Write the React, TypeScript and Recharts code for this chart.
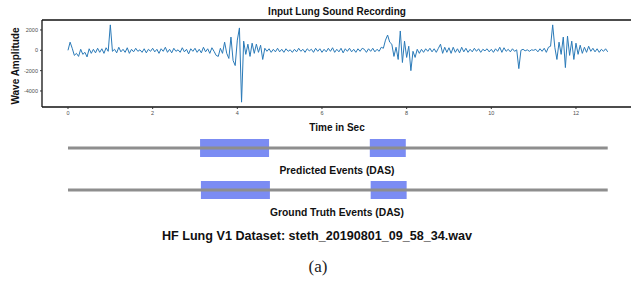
import { LineChart, Line, XAxis, YAxis, ReferenceLine, ReferenceArea } from "recharts";

const SAMPLE_STEP = 0.05;
const WAVE = [
  0, 800, 200, -500, -300, -600, 100, -400, -200, -650, 150, -300, 100, -250, 200, -200, 150, -300, 250, -100,
  2500, -100, 100, -250, 300, -150, 100, -200, 250, -300, 100, -150, 200, -100, 50, -200, 150, -250, 100, -100,
  200, -150, 100, -300, 150, -100, 300, -200, 100, -250, 200, -100, 50, -200, 250, -150, 100, -350, 150, -100,
  200, -200, 100, -250, 300, -150, 150, -300, 250, -100, -500, -600, 200, -300, 800, -300, -800, 1300, -1000, -1500,
  1000, 2200, -5100, 900, -400, 600, -600, 700, -300, 600, -200, 500, -900, 200, -100, 150, -200, 100, -150, 200,
  -150, 100, -200, 150, -100, 50, -200, 100, -150, 200, -100, 100, -200, 150, -50, 100, -200, 200, -100, 150,
  -200, 100, -150, 200, -100, 250, -200, 100, -150, 200, -250, 150, -100, 200, -150, 100, -200, 150, -100, 200,
  100, -200, 150, -100, 200, -150, 100, -100, 300, 200, 1000, 1500, 800, 600, -600, 300, -900, 1900, -1200, 900,
  -700, 400, -2000, -100, -700, 100, -300, 100, -200, 150, -100, 200, -150, 150, -200, 200, 600, -300, 300, -200,
  250, -300, 300, -200, 150, -250, 300, -150, 200, -200, 100, -150, 200, -100, 150, -200, 100, -50, 150, -150,
  100, -200, 150, -100, 300, -200, 250, -100, 100, -150, 150, -100, 50, -1800, 0, 100, -50, 50, -100, 50,
  0, 100, -150, 150, -100, 200, -200, 300, 400, 2500, 300, -900, 800, -400, 1300, -1700, 1400, -500, 900, -900,
  700, -400, 500, -300, 300, -200, 400, -100, 200, -150, 150, -200, 100, -100, 150, -150,
];

const X_TICKS = [0, 2, 4, 6, 8, 10, 12];
const Y_TICKS = [2000, 0, -2000, -4000];
const X_DOMAIN: [number, number] = [-0.614, 13.3];
const Y_DOMAIN: [number, number] = [-5575, 2980];

// event timelines (seconds)
const TIMELINE_END = 12.75;
const PREDICTED_EVENTS: [number, number][] = [
  [3.12, 4.75],
  [7.13, 7.98],
];
const TRUTH_EVENTS: [number, number][] = [
  [3.14, 4.77],
  [7.15, 8.0],
];
const ROW_PREDICTED = 1;
const ROW_TRUTH = 0;
const ROW_HALF = 0.214;

const waveData = WAVE.map((v, i) => ({ t: +(i * SAMPLE_STEP).toFixed(2), v }));

const FONT = '"Liberation Sans", Arial, Helvetica, sans-serif';
const label = (top: number, size: number, text: string, center = 337) => (
  <div
    style={{
      position: "absolute",
      top,
      left: center - 200,
      width: 400,
      textAlign: "center",
      fontSize: size,
      fontWeight: "bold",
      lineHeight: `${size}px`,
      color: "#111",
    }}
  >
    {text}
  </div>
);

export default function App() {
  return (
    <div style={{ position: "absolute", left: 0, top: 0, width: 631, height: 281, background: "#fff", fontFamily: FONT }}>
      {/* waveform */}
      <div style={{ position: "absolute", left: 0, top: 0 }}>
        <LineChart width={631} height={120} data={waveData} margin={{ top: 20, right: 0, left: 0, bottom: 0 }}>
          <XAxis
            type="number"
            dataKey="t"
            domain={X_DOMAIN}
            ticks={X_TICKS}
            height={13}
            tickSize={2}
            tick={{ fontSize: 5.5, fill: "#4d4d4d" }}
            axisLine={{ stroke: "#111", strokeWidth: 1.3 }}
            tickLine={{ stroke: "#333" }}
            allowDataOverflow
          />
          <YAxis
            type="number"
            domain={Y_DOMAIN}
            ticks={Y_TICKS}
            width={42}
            tickSize={2}
            tick={{ fontSize: 5.5, fill: "#4d4d4d" }}
            axisLine={{ stroke: "#111", strokeWidth: 1.3 }}
            tickLine={{ stroke: "#333" }}
            allowDataOverflow
          />
          <ReferenceLine y={Y_DOMAIN[1]} stroke="#111" strokeWidth={1.3} />
          <Line type="linear" dataKey="v" stroke="#2a7ab8" strokeWidth={1} dot={false} isAnimationActive={false} />
        </LineChart>
      </div>

      {/* event timelines */}
      <div style={{ position: "absolute", left: 0, top: 0 }}>
        <LineChart width={631} height={281} margin={{ top: 139, right: 0, left: 42, bottom: 82 }}>
          <XAxis type="number" dataKey="t" domain={X_DOMAIN} hide allowDataOverflow />
          <YAxis type="number" domain={[ROW_TRUTH - ROW_HALF, ROW_PREDICTED + ROW_HALF]} hide allowDataOverflow />
          {[ROW_PREDICTED, ROW_TRUTH].map((row) => (
            <ReferenceLine
              key={"l" + row}
              segment={[
                { x: 0, y: row },
                { x: TIMELINE_END, y: row },
              ]}
              stroke="#8e8e8e"
              strokeWidth={3}
            />
          ))}
          {PREDICTED_EVENTS.map(([a, b]) => (
            <ReferenceArea key={"p" + a} x1={a} x2={b} y1={ROW_PREDICTED - ROW_HALF} y2={ROW_PREDICTED + ROW_HALF} fill="#7b8cf3" fillOpacity={1} stroke="none" />
          ))}
          {TRUTH_EVENTS.map(([a, b]) => (
            <ReferenceArea key={"g" + a} x1={a} x2={b} y1={ROW_TRUTH - ROW_HALF} y2={ROW_TRUTH + ROW_HALF} fill="#7b8cf3" fillOpacity={1} stroke="none" />
          ))}
        </LineChart>
      </div>

      {label(7, 10, "Input Lung Sound Recording")}
      <div
        style={{
          position: "absolute",
          left: 16 - 60,
          top: 66 - 6,
          width: 120,
          textAlign: "center",
          fontSize: 10,
          lineHeight: "12px",
          fontWeight: "bold",
          color: "#111",
          transform: "rotate(-90deg)",
        }}
      >
        Wave Amplitude
      </div>
      {label(123, 10, "Time in Sec")}
      {label(166, 10.3, "Predicted Events (DAS)")}
      {label(208, 10.3, "Ground Truth Events (DAS)")}
      {label(230, 12.6, "HF Lung V1 Dataset: steth_20190801_09_58_34.wav", 317)}
      <div
        style={{
          position: "absolute",
          top: 257,
          left: 318 - 50,
          width: 100,
          textAlign: "center",
          fontFamily: '"Liberation Serif", "Times New Roman", serif',
          fontSize: 17,
          lineHeight: "20px",
          color: "#222",
        }}
      >
        (a)
      </div>
    </div>
  );
}
